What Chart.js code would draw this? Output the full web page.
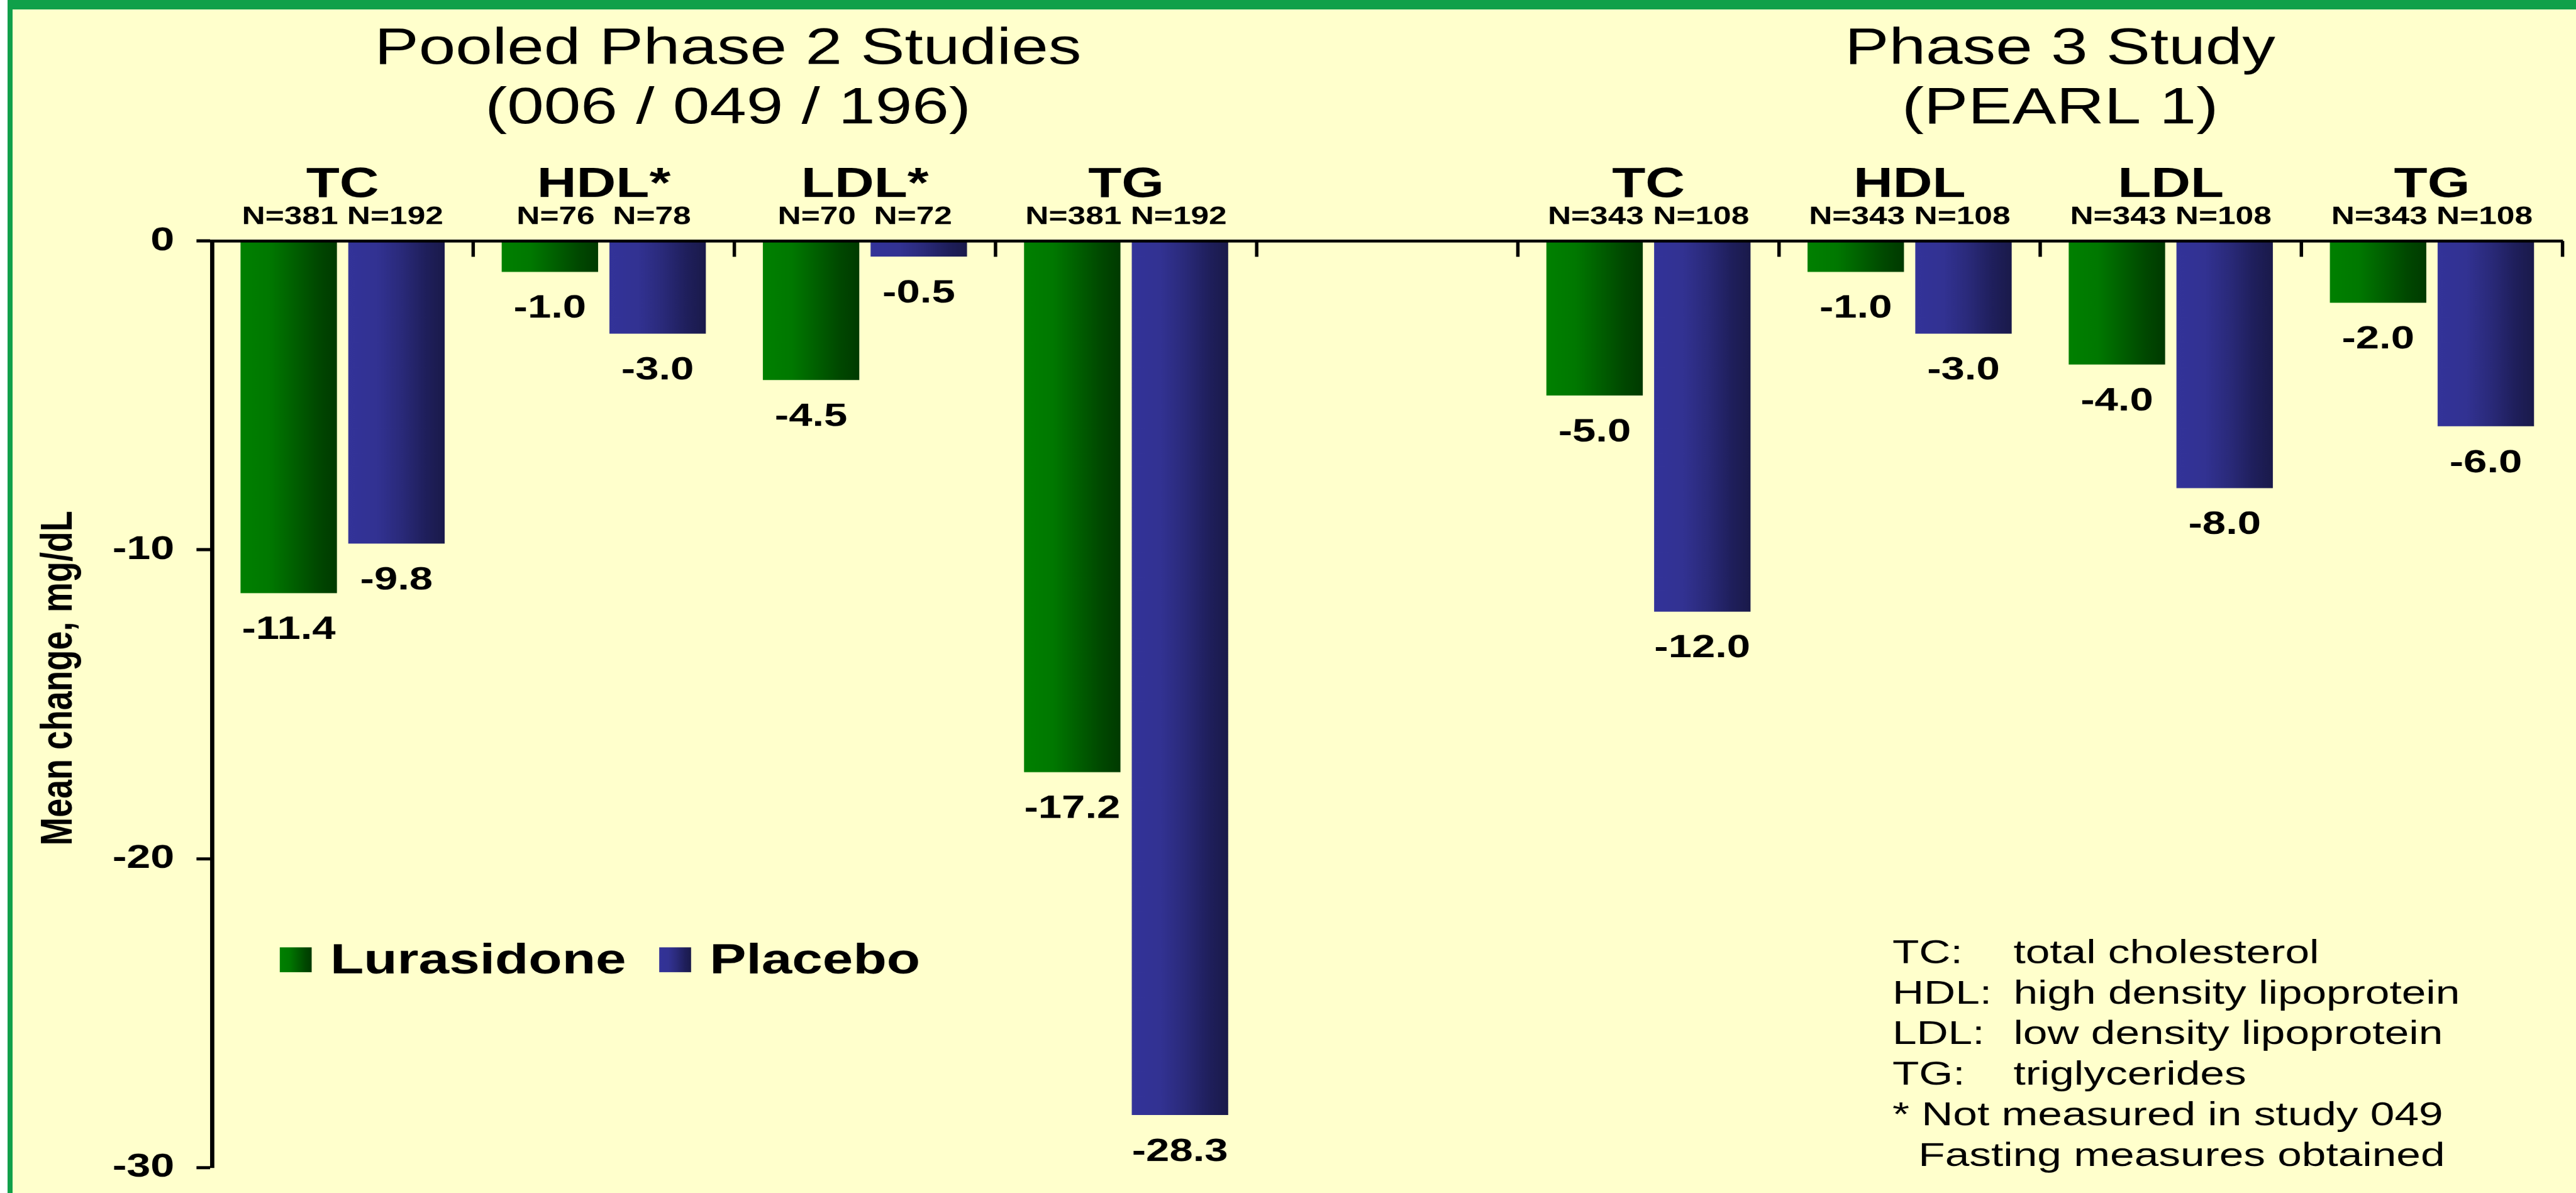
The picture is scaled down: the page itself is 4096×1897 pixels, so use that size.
<!DOCTYPE html>
<html>
<head>
<meta charset="utf-8">
<script src="https://cdn.jsdelivr.net/npm/chart.js@4.4.1/dist/chart.umd.min.js"></script>
<style>
  html, body { margin: 0; padding: 0; background: #ffffff; width: 4096px; height: 1897px; overflow: hidden; }
  #panel {
    position: absolute; left: 12px; top: 0; width: 4084px; height: 1897px; box-sizing: border-box;
    background: #FFFFCC; border-top: 15px solid #10A04A; border-left: 8px solid #10A04A;
  }
  /* the slide is laid out in a narrower box and widened horizontally */
  #stage { position: absolute; left: 0; top: 0; width: 3151px; height: 1897px; transform: scaleX(1.299905); transform-origin: 0 0; }
  #chart { display: block; width: 3151px; height: 1897px; }
</style>
</head>
<body>
<div id="panel"></div>
<div id="stage"><canvas id="chart" width="3151" height="1897"></canvas></div>
<script>
// ---- data ----
const categories = ['TC', 'HDL*', 'LDL*', 'TG', '', 'TC', 'HDL', 'LDL', 'TG'];
const sampleSizes = ['N=381 N=192', 'N=76  N=78', 'N=70  N=72', 'N=381 N=192', '',
                     'N=343 N=108', 'N=343 N=108', 'N=343 N=108', 'N=343 N=108'];
const lurasidone = [-11.4, -1.0, -4.5, -17.2, null, -5.0, -1.0, -4.0, -2.0];
const placebo    = [-9.8, -3.0, -0.5, -28.3, null, -12.0, -3.0, -8.0, -6.0];
const seriesNames = ['Lurasidone', 'Placebo'];
const yTicks = [0, -10, -20, -30];
const yAxisTitle = 'Mean change, mg/dL';
const studyTitles = [
  ['Pooled Phase 2 Studies', '(006 / 049 / 196)'],
  ['Phase 3 Study', '(PEARL 1)']
];
const studyGroups = [[0, 3], [5, 8]];
const glossary = [
  ['TC:', 'total cholesterol'],
  ['HDL:', 'high density lipoprotein'],
  ['LDL:', 'low density lipoprotein'],
  ['TG:', 'triglycerides']
];
const footnotes = ['* Not measured in study 049', 'Fasting measures obtained'];

// ---- styles ----
const FAMILY = "'Liberation Sans', Arial, Helvetica, sans-serif";
const font = (size, bold) => (bold ? 'bold ' : '') + size + 'px ' + FAMILY;
const GRADIENTS = [
  [[0, '#008000'], [0.3, '#007800'], [0.55, '#006000'], [0.8, '#004800'], [1, '#003a00']],
  [[0, '#333399'], [0.3, '#323292'], [0.55, '#2a2a7a'], [0.8, '#1f1f5c'], [1, '#1a1a4a']]
];
const CAT_PCT = 0.825;
const BAR_PCT = 0.895;

// horizontal shading across each bar, computed from the category scale
function barFill(c) {
  const stops = GRADIENTS[c.datasetIndex] || GRADIENTS[0];
  const chart = c.chart;
  const xs = chart.scales && chart.scales.x;
  if (c.type !== 'data' || !xs || !chart.chartArea) return stops[0][1];
  const step = xs.getPixelForValue(1) - xs.getPixelForValue(0);
  const slot = step * CAT_PCT / 2;
  const cx = xs.getPixelForValue(c.dataIndex) + (c.datasetIndex === 0 ? -0.5 : 0.5) * slot;
  const half = slot * BAR_PCT / 2;
  const g = chart.ctx.createLinearGradient(cx - half, 0, cx + half, 0);
  stops.forEach(([o, col]) => g.addColorStop(o, col));
  return g;
}

function boxFill(ctx, x, w, stops) {
  const g = ctx.createLinearGradient(x, 0, x + w, 0);
  stops.forEach(([o, col]) => g.addColorStop(o, col));
  return g;
}

// labels, inward tick marks, legend and notes
const decorations = {
  id: 'decorations',
  afterDraw(chart) {
    const { ctx, chartArea: area, scales: { x: xs } } = chart;
    const step = xs.getPixelForValue(1) - xs.getPixelForValue(0);
    ctx.save();

    // tick marks between categories, pointing down from the zero line
    ctx.strokeStyle = '#000';
    ctx.lineWidth = 4.2;
    for (let k = 0; k <= categories.length; k++) {
      const px = xs.getPixelForValue(k) - step / 2;
      ctx.beginPath();
      ctx.moveTo(px, area.top);
      ctx.lineTo(px, area.top + 25);
      ctx.stroke();
    }

    ctx.fillStyle = '#000';
    ctx.textAlign = 'center';
    ctx.textBaseline = 'alphabetic';

    // study headings
    ctx.font = font(81, false);
    const shifts = [-7.8, 24.3];
    studyGroups.forEach(([a, b], gi) => {
      const cx = (xs.getPixelForValue(a) + xs.getPixelForValue(b)) / 2 + shifts[gi];
      ctx.fillText(studyTitles[gi][0], cx, 101.3);
      ctx.fillText(studyTitles[gi][1], cx, 196.2);
    });

    // lipid names and sample sizes above each category
    categories.forEach((name, i) => {
      const cx = xs.getPixelForValue(i);
      ctx.font = font(66.9, true);
      ctx.fillText(name, cx, 313.1);
      ctx.font = font(39.6, true);
      ctx.fillText(sampleSizes[i], cx, 356.4);
    });

    // value under each bar
    ctx.font = font(51.6, true);
    chart.data.datasets.forEach((ds, di) => {
      chart.getDatasetMeta(di).data.forEach((bar, i) => {
        const v = ds.data[i];
        if (v === null || v === undefined) return;
        ctx.fillText(v.toFixed(1), bar.x, bar.y + 72.8);
      });
    });

    // y axis title
    ctx.save();
    ctx.translate(87.9, 1078);
    ctx.rotate(-Math.PI / 2);
    ctx.font = font(53.8, true);
    ctx.fillText(yAxisTitle, 0, 0);
    ctx.restore();

    // legend
    ctx.textAlign = 'left';
    ctx.font = font(67.2, true);
    let lx = 342.2;
    chart.data.datasets.forEach((ds, di) => {
      ctx.fillStyle = boxFill(ctx, lx, 39, GRADIENTS[di]);
      ctx.fillRect(lx, 1505.8, 39, 39.6);
      ctx.fillStyle = '#000';
      const tx = lx + 61.6;
      ctx.fillText(ds.label, tx, 1547.3);
      lx = tx + ctx.measureText(ds.label).width + 40.4;
    });

    // abbreviations
    ctx.font = font(53.4, false);
    const base = 1530.7, lead = 64.47;
    glossary.forEach(([abbr, text], i) => {
      ctx.fillText(abbr, 2314.7, base + lead * i);
      ctx.fillText(text, 2462.8, base + lead * i);
    });
    ctx.fillText(footnotes[0], 2314.7, base + lead * 4);
    ctx.fillText(footnotes[1], 2346.6, base + lead * 5);

    ctx.restore();
  }
};

Chart.defaults.font.family = FAMILY;
Chart.defaults.color = '#000';

new Chart(document.getElementById('chart'), {
  type: 'bar',
  data: {
    labels: categories,
    datasets: [
      { label: seriesNames[0], data: lurasidone, backgroundColor: barFill, borderWidth: 0 },
      { label: seriesNames[1], data: placebo, backgroundColor: barFill, borderWidth: 0 }
    ]
  },
  options: {
    responsive: false,
    animation: false,
    devicePixelRatio: 4096 / 3151,
    categoryPercentage: CAT_PCT,
    barPercentage: BAR_PCT,
    layout: { padding: { left: 0, right: 16.5, top: 383.1, bottom: 41.2 } },
    plugins: { legend: { display: false }, tooltip: { enabled: false } },
    scales: {
      x: {
        type: 'category',
        position: 'top',
        offset: true,
        grid: { display: false, drawTicks: false },
        ticks: { display: false },
        border: { display: true, color: '#000', width: 4.6, z: 1 }
      },
      y: {
        min: yTicks[yTicks.length - 1],
        max: yTicks[0],
        afterBuildTicks: (scale) => { scale.ticks = yTicks.map(v => ({ value: v })); },
        afterFit: (scale) => {
          scale.width = 259.3;
          // the plot area is placed by the layout padding alone
          scale.paddingTop = 0;
          scale.paddingBottom = 0;
        },
        grid: { display: true, drawOnChartArea: false, drawTicks: true, tickLength: 19, tickWidth: 5, tickColor: '#000', color: '#000' },
        border: { display: true, color: '#000', width: 5.2 },
        ticks: { padding: 27, font: { size: 52.5, weight: 'bold' }, color: '#000', callback: (v) => String(v) }
      }
    }
  },
  plugins: [decorations]
});
</script>
</body>
</html>
